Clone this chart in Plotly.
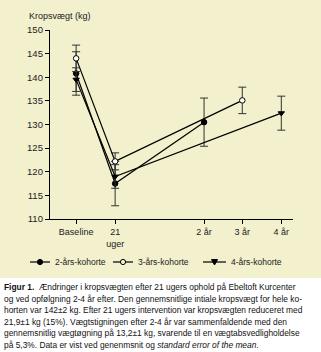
import plotly.graph_objects as go

# ---- data ----
x_labels = ["Baseline", "21<br>uger", "2 år", "3 år", "4 år"]
x_pos = [0, 1, 3.28, 4.26, 5.26]

k2_x = [0, 1, 3.28]
k2_y = [140.8, 117.5, 130.5]
k2_e = [4.6, 4.7, 5.1]

k3_x = [0, 1, 4.26]
k3_y = [144.0, 122.2, 135.1]
k3_e = [2.8, 1.8, 2.8]

k4_x = [0, 1, 5.26]
k4_y = [139.5, 119.0, 132.4]
k4_e = [2.5, 2.5, 3.6]

y_ticks = [110, 115, 120, 125, 130, 135, 140, 145, 150]

series_names = ["2-års-kohorte", "3-års-kohorte", "4-års-kohorte"]

caption_lines = [
    "<b>Figur 1.</b>  Ændringer i kropsvægten efter 21 ugers ophold på Ebeltoft Kurcenter",
    "og ved opfølgning 2-4 år efter. Den gennemsnitlige intiale kropsvægt for hele ko-",
    "horten var 142±2 kg. Efter 21 ugers intervention var kropsvægten reduceret med",
    "21,9±1 kg (15%). Vægtstigningen efter 2-4 år var sammenfaldende med den",
    "gennemsnitlig vægtøgning på 13,2±1 kg, svarende til en vægtabsvedligholdelse",
    "på 5,3%. Data er vist ved genenmsnit og <i>standard error of the mean</i>.",
]

CREAM = "#f2f0cd"
INK = "#222222"
FONT = "Liberation Sans"

W, H = 321, 352
L, R, T, B = 50, 28, 30, 133
ph = H - T - B
pw = W - L - R


def py(pix):
    return (H - B - pix) / ph


def px(pix):
    return (pix - L) / pw


fig = go.Figure()


def add(xs, ys, es, name, symbol, fill):
    fig.add_trace(go.Scatter(
        x=xs, y=ys, name=name, mode="lines+markers",
        line=dict(color="black", width=1.2),
        marker=dict(symbol=symbol, size=5.5, color=fill,
                    line=dict(color="black", width=1)),
        error_y=dict(type="data", array=es, visible=True,
                     color="#333333", thickness=1, width=4),
    ))


add(k2_x, k2_y, k2_e, series_names[0], "circle", "black")
add(k3_x, k3_y, k3_e, series_names[1], "circle", "white")
add(k4_x, k4_y, k4_e, series_names[2], "triangle-down", "black")

shapes = [dict(type="rect", xref="paper", yref="paper", layer="below",
               x0=px(-5), x1=px(W + 5), y0=py(278), y1=py(-5),
               fillcolor=CREAM, line=dict(width=0))]

annotations = [dict(text="Kropsvægt (kg)", xref="paper", yref="paper",
                    x=px(27), y=py(16), xanchor="left", yanchor="middle",
                    showarrow=False, font=dict(size=9, color=INK, family=FONT))]

# ---- manual legend (keys drawn in pixel layout space) ----
LEG_Y = 262
leg_items = [(30, 50, "fcircle"), (113, 133, "ocircle"), (203, 226, "tri")]
for (x0, x1, kind), name in zip(leg_items, series_names):
    shapes.append(dict(type="line", xref="paper", yref="paper",
                       x0=px(x0), x1=px(x1), y0=py(LEG_Y), y1=py(LEG_Y),
                       line=dict(color="black", width=1.2)))
    cx = (x0 + x1) / 2
    r = 2.6
    if kind in ("fcircle", "ocircle"):
        shapes.append(dict(type="circle", xref="paper", yref="paper",
                           x0=px(cx - r), x1=px(cx + r),
                           y0=py(LEG_Y + r), y1=py(LEG_Y - r),
                           fillcolor="black" if kind == "fcircle" else CREAM,
                           line=dict(color="black", width=1)))
    else:
        path = "M {} {} L {} {} L {} {} Z".format(
            px(cx - 3), py(LEG_Y - 2.5), px(cx + 3), py(LEG_Y - 2.5),
            px(cx), py(LEG_Y + 3))
        shapes.append(dict(type="path", xref="paper", yref="paper", path=path,
                           fillcolor="black", line=dict(color="black", width=1)))
    annotations.append(dict(text=name, xref="paper", yref="paper",
                            x=px(x1 + 3), y=py(LEG_Y), xanchor="left",
                            yanchor="middle", showarrow=False,
                            font=dict(size=8.5, color=INK, family=FONT)))

line_y = [287, 298.5, 310, 321.5, 333, 344.5]
for t, yy in zip(caption_lines, line_y):
    annotations.append(dict(text=t, xref="paper", yref="paper",
                            x=px(2), y=py(yy), xanchor="left", yanchor="middle",
                            showarrow=False,
                            font=dict(size=8.4, color="#111111", family=FONT)))

fig.update_layout(
    width=W, height=H,
    margin=dict(l=L, r=R, t=T, b=B),
    paper_bgcolor="white",
    plot_bgcolor="rgba(0,0,0,0)",
    font=dict(family=FONT, color=INK, size=9),
    showlegend=False,
    shapes=shapes,
    annotations=annotations,
    xaxis=dict(range=[-0.67, 5.56], tickmode="array", tickvals=x_pos,
               ticktext=x_labels, showgrid=False, zeroline=False,
               showline=True, linecolor="black", linewidth=1.3,
               ticks="outside", ticklen=4, tickcolor="black",
               tickfont=dict(size=9, color=INK), fixedrange=True),
    yaxis=dict(range=[110, 150], tickmode="array", tickvals=y_ticks,
               showgrid=False, zeroline=False,
               showline=True, linecolor="black", linewidth=1.3,
               ticks="outside", ticklen=4, tickcolor="black",
               tickfont=dict(size=9.5, color=INK), fixedrange=True),
)

fig.write_html("out.html")
